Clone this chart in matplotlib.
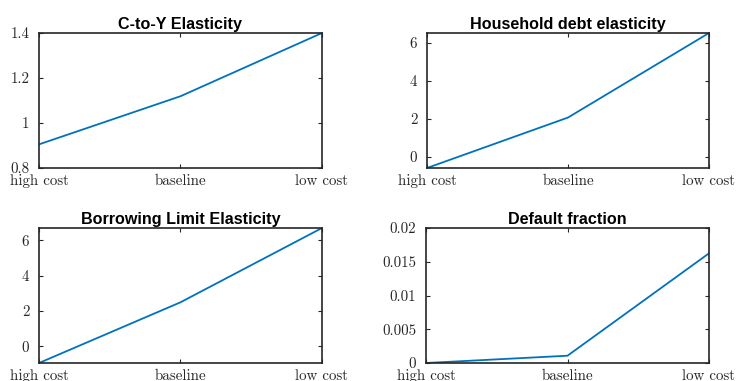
import matplotlib
matplotlib.use("Agg")
import matplotlib.pyplot as plt

categories = ["high cost", "baseline", "low cost"]
titles = ["C-to-Y Elasticity", "Household debt elasticity",
          "Borrowing Limit Elasticity", "Default fraction"]
c_to_y = [0.905, 1.119, 1.40]
hh_debt = [-0.58, 2.07, 6.51]
borrow = [-0.95, 2.49, 6.70]
default_frac = [0.0, 0.00108, 0.01625]
series = [c_to_y, hh_debt, borrow, default_frac]
ylims = [(0.8, 1.4), (-0.58, 6.51), (-0.95, 6.70), (0.0, 0.02)]
yticks = [[0.8, 1.0, 1.2, 1.4], [0, 2, 4, 6], [0, 2, 4, 6],
          [0, 0.005, 0.01, 0.015, 0.02]]
yticklabels = [["0.8", "1", "1.2", "1.4"], ["0", "2", "4", "6"],
               ["0", "2", "4", "6"], ["0", "0.005", "0.01", "0.015", "0.02"]]

W, H = 737, 381
fig = plt.figure(figsize=(W / 100, H / 100), dpi=100)
# axes boxes in pixels: left, top, right, bottom
boxes = [(39, 33, 322, 168), (427, 33, 709, 168),
         (39, 228, 322, 363), (426, 228, 709, 363)]
edge = "#262626"
for i, (l, t, r, b) in enumerate(boxes):
    ax = fig.add_axes([l / W, 1 - b / H, (r - l) / W, (b - t) / H])
    ax.plot(range(len(categories)), series[i], color="#0072BD", lw=1.3)
    ax.set_xlim(0, len(categories) - 1)
    ax.set_ylim(*ylims[i])
    ax.set_xticks(range(len(categories)))
    ax.set_xticklabels(categories, family="cmr10", fontsize=10.8)
    ax.set_yticks(yticks[i])
    ax.set_yticklabels(yticklabels[i], family="cmr10", fontsize=10.8)
    ax.tick_params(direction="in", top=True, right=True, length=3,
                   width=0.8, color=edge, labelcolor=edge)
    ax.tick_params(axis="x", pad=4.5)
    ax.tick_params(axis="y", pad=7)
    for s in ax.spines.values():
        s.set_color(edge)
        s.set_linewidth(1.2)
    ax.set_title(titles[i], fontsize=11.6, fontweight="bold",
                 family="Liberation Sans", pad=3)

fig.savefig("out.png", dpi=100)
